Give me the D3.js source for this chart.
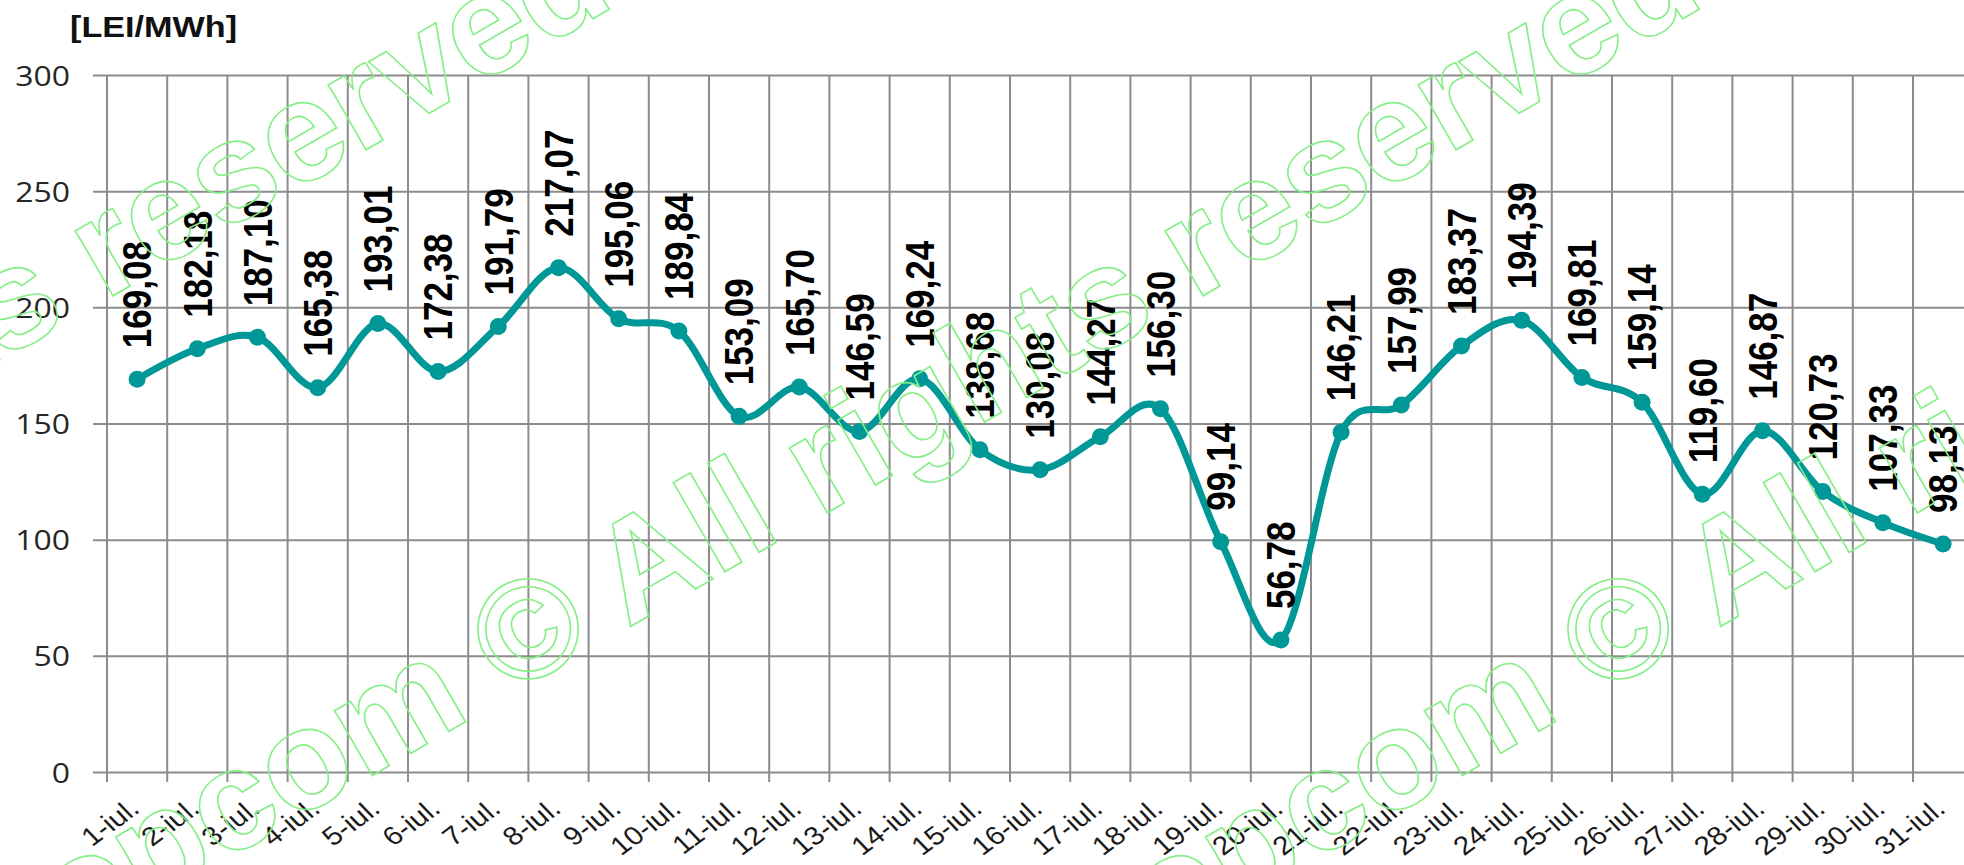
<!DOCTYPE html>
<html>
<head>
<meta charset="utf-8">
<script src="https://cdn.jsdelivr.net/npm/d3@7"></script>
<style>
  html, body { margin: 0; padding: 0; background: #fff; }
  svg { display: block; }
</style>
</head>
<body>
<svg id="chart" width="1964" height="865"></svg>
<script>
const categories = ["1-iul.","2-iul.","3-iul.","4-iul.","5-iul.","6-iul.","7-iul.","8-iul.","9-iul.","10-iul.",
  "11-iul.","12-iul.","13-iul.","14-iul.","15-iul.","16-iul.","17-iul.","18-iul.","19-iul.","20-iul.",
  "21-iul.","22-iul.","23-iul.","24-iul.","25-iul.","26-iul.","27-iul.","28-iul.","29-iul.","30-iul.","31-iul."];
const prices = [169.08,182.18,187.10,165.38,193.01,172.38,191.79,217.07,195.06,189.84,
  153.09,165.70,146.59,169.24,138.68,130.08,144.27,156.30,99.14,56.78,
  146.21,157.99,183.37,194.39,169.81,159.14,119.60,146.87,120.73,107.33,98.13];
const yTicks = [0,50,100,150,200,250,300];
const unitLabel = "[LEI/MWh]";
const watermarkText = "opcom © All rights reserved";

const W = 1964, H = 865;
const svg = d3.select("#chart");
svg.append("rect").attr("width", W).attr("height", H).attr("fill", "#fff");

const x = d3.scaleBand().domain(categories).range([107, 107 + 31 * 60.2]).padding(0);
const y = d3.scaleLinear().domain([0, 300]).range([772, 75]);
const cx = d => x(d) + x.bandwidth() / 2;
const SX = 1.14;
const gridColor = "#8c8c8c";

// horizontal gridlines + y tick labels
const yAxis = svg.append("g").attr("transform", "translate(93,0)")
  .call(d3.axisLeft(y).tickValues(yTicks).tickSize(-(W - 93 + 20)).tickPadding(23));
yAxis.select(".domain").remove();
yAxis.selectAll(".tick line").attr("stroke", gridColor).attr("stroke-width", 2);
yAxis.selectAll(".tick text")
  .attr("x", 0).attr("dy", "0.36em")
  .attr("transform", `translate(-23,0) scale(${SX},1)`)
  .attr("fill", "#262626")
  .style("font-family", "'Open Sans', sans-serif")
  .style("font-size", "28px");

// vertical gridlines at category boundaries
const bounds = categories.map(c => x(c)).concat([x.range()[1]]);
svg.append("g").selectAll("line").data(bounds).join("line")
  .attr("x1", d => d).attr("x2", d => d)
  .attr("y1", y(300)).attr("y2", y(0) + 10)
  .attr("stroke", gridColor).attr("stroke-width", 2);

// x labels
svg.append("g").selectAll("text").data(categories).join("text")
  .attr("transform", d => `translate(${cx(d) + 4},811) scale(${SX},1) rotate(-40)`)
  .attr("text-anchor", "end")
  .attr("fill", "#1a1a1a")
  .style("font-family", "'Liberation Sans', Arial, sans-serif")
  .style("font-size", "26px")
  .text(d => d);

// title
svg.append("text")
  .attr("transform", `translate(70,37) scale(${SX},1)`)
  .attr("fill", "#111")
  .style("font-family", "'Liberation Sans', Arial, sans-serif")
  .style("font-weight", "bold")
  .style("font-size", "30px")
  .text(unitLabel);

// line
const teal = "#009797";
const data = categories.map((c, i) => ({ c, v: prices[i] }));
svg.append("path").datum(data)
  .attr("fill", "none").attr("stroke", teal).attr("stroke-width", 7)
  .attr("stroke-linejoin", "round")
  .attr("d", d3.line().x(d => cx(d.c)).y(d => y(d.v)).curve(d3.curveCardinal.tension(0)));
svg.append("g").selectAll("circle").data(data).join("circle")
  .attr("cx", d => cx(d.c)).attr("cy", d => y(d.v)).attr("r", 8.5).attr("fill", teal);

// data labels
svg.append("g").selectAll("text").data(data).join("text")
  .attr("transform", d => `translate(${cx(d.c)},${y(d.v) - 31}) scale(${SX},1) rotate(-90)`)
  .attr("dy", "0.36em")
  .attr("text-anchor", "start")
  .attr("fill", "#000")
  .style("font-family", "'Liberation Sans', Arial, sans-serif")
  .style("font-weight", "bold")
  .style("font-size", "35px")
  .text(d => d.v.toFixed(2).replace(".", ","));

// watermark
const wmOffsets = [-1090, 0, 1090];
svg.append("g").selectAll("text").data(wmOffsets).join("text")
  .attr("transform", d => `translate(${70 + d},950) rotate(-30)`)
  .attr("fill", "none").attr("stroke", "#86ee86").attr("stroke-width", 1.6)
  .style("font-family", "'Liberation Sans', Arial, sans-serif")
  .style("font-weight", "bold")
  .style("font-size", "142px")
  .text(watermarkText);
</script>
</body>
</html>
